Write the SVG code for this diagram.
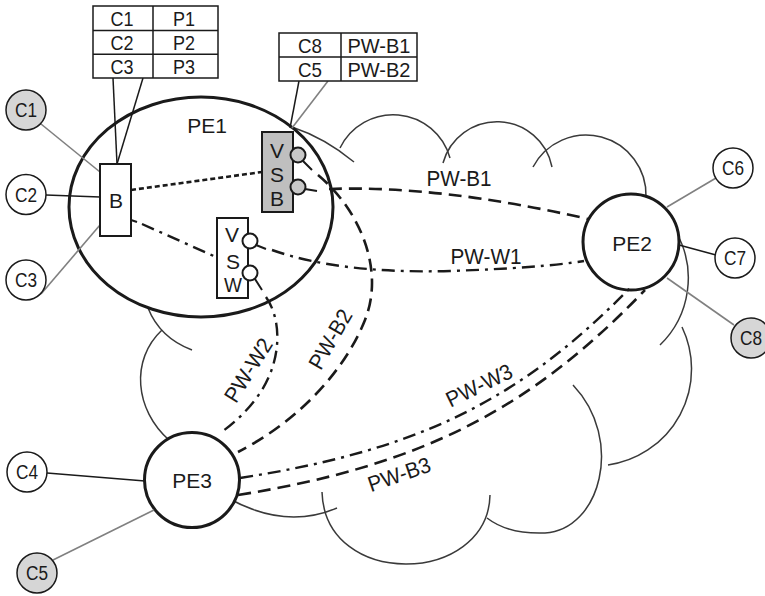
<svg xmlns="http://www.w3.org/2000/svg" width="765" height="596" viewBox="0 0 765 596">
<defs>
<style>
text{font-family:"Liberation Sans",Arial,sans-serif;fill:#1a1a1a;text-anchor:middle}
.pel{font-size:21px}
.lbl{font-size:22px}
.tbl{font-size:21px}
.cl{font-size:20px}
.vs{font-size:21px}
.cloud{fill:none;stroke:#3a3a3a;stroke-width:1.5}
.pe{fill:#fff;stroke:#1a1a1a;stroke-width:3}
.cn{fill:#fff;stroke:#1a1a1a;stroke-width:1.5}
.cg{fill:#d6d6d6;stroke:#1a1a1a;stroke-width:1.5}
.box{fill:#fff;stroke:#1a1a1a;stroke-width:2}
.tb{fill:#fff;stroke:#1a1a1a;stroke-width:1.5}
.tl{stroke:#1a1a1a;stroke-width:1.5;fill:none}
.gl{stroke:#808080;stroke-width:1.6;fill:none}
.bl{stroke:#1a1a1a;stroke-width:1.5;fill:none}
.dash{fill:none;stroke:#1a1a1a;stroke-width:2.6;stroke-dasharray:13 7}
.dd{fill:none;stroke:#1a1a1a;stroke-width:2.4;stroke-dasharray:13 6 3 6}
.dot{fill:none;stroke:#1a1a1a;stroke-width:2.6;stroke-dasharray:5 3}
.stub{stroke:#1a1a1a;stroke-width:2;fill:none}
</style>
</defs>
<rect width="765" height="596" fill="#fff"/>

<g id="cloud">
<path class="cloud" d="M292,127 Q325,138 354,162"/>
<path class="cloud" d="M340,148 A59 59 0 0 1 450,158"/>
<path class="cloud" d="M443,163 A56 56 0 0 1 552,167"/>
<path class="cloud" d="M533,167 A60 60 0 0 1 646,197"/>
<path class="cloud" d="M676,232 A93 93 0 0 1 660,345"/>
<path class="cloud" d="M682,327 A97 97 0 0 1 608,465"/>
<path class="cloud" d="M573,385 C625,440 600,530 545,533 C520,534 500,528 487,518"/>
<path class="cloud" d="M490,495 C488,585 325,590 322,492"/>
<path class="cloud" d="M337,508 Q285,530 228,498"/>
<path class="cloud" d="M169,440 C135,410 130,360 162,330"/>
<path class="cloud" d="M148,308 Q160,338 192,350"/>
</g>

<g id="PE1">
<ellipse class="pe" cx="201" cy="207" rx="132" ry="110"/>
<text class="pel" x="207" y="133">PE1</text>
</g>
<g id="PE2">
<circle class="pe" cx="631" cy="242" r="48"/>
<text class="pel" x="632" y="250.5">PE2</text>
</g>
<g id="PE3">
<circle class="pe" cx="192" cy="480" r="47.5"/>
<text class="pel" x="192" y="487.5">PE3</text>
</g>

<g id="connectors">
<line class="gl" x1="41" y1="124" x2="100" y2="172"/>
<line class="bl" x1="46" y1="195" x2="100" y2="197"/>
<line class="gl" x1="41" y1="294" x2="100" y2="225"/>
<line class="bl" x1="47" y1="473" x2="145" y2="481"/>
<line class="gl" x1="53" y1="560" x2="154" y2="510"/>
<line class="gl" x1="667" y1="207" x2="716" y2="178"/>
<line class="bl" x1="679" y1="245" x2="716" y2="255"/>
<line class="gl" x1="667" y1="278" x2="734" y2="325"/>
<line class="tl" x1="113" y1="78" x2="117" y2="164"/>
<line class="tl" x1="143" y1="78" x2="117" y2="164"/>
<line class="tl" x1="299" y1="81" x2="290" y2="128"/>
<line class="gl" x1="328" y1="81" x2="292" y2="128"/>
<path class="dot" d="M131,190 L262,172"/>
<path class="stub" d="M131,220 L137,222"/>
<path class="dd" d="M142,224 L216,257"/>
<path id="pwb1" class="dash" d="M329,189 Q440,185 588,219"/>
<path id="pww1" class="dd" d="M272,250 Q340,274 450,271 Q540,268 584,261"/>
<path id="pwb2" class="dash" d="M318,175 C360,210 385,270 365,320 C345,370 300,420 238,452"/>
<path id="pww2" class="dd" d="M266,297 C282,320 282,360 260,393 Q245,415 223,431"/>
<path id="pww3" class="dd" d="M240,478 C420,450 520,400 630,288"/>
<path id="pwb3" class="dash" d="M238,495 C420,466 530,410 645,290"/>
</g>

<g id="labels">
<text class="lbl" x="459" y="186" textLength="65" lengthAdjust="spacingAndGlyphs">PW-B1</text>
<text class="lbl" x="486" y="264" textLength="71" lengthAdjust="spacingAndGlyphs">PW-W1</text>
<text class="lbl" transform="translate(330,339) rotate(-60)" x="0" y="8" textLength="65" lengthAdjust="spacingAndGlyphs">PW-B2</text>
<text class="lbl" transform="translate(248,370) rotate(-58)" x="0" y="8" textLength="71" lengthAdjust="spacingAndGlyphs">PW-W2</text>
<text class="lbl" transform="translate(479,385) rotate(-26)" x="0" y="8" textLength="71" lengthAdjust="spacingAndGlyphs">PW-W3</text>
<text class="lbl" transform="translate(399,474) rotate(-19)" x="0" y="8" textLength="65" lengthAdjust="spacingAndGlyphs">PW-B3</text>
</g>

<g id="B">
<rect class="box" x="100" y="164" width="31" height="72"/>
<text class="vs" x="116" y="207.5">B</text>
</g>

<g id="VSB">
<rect x="262" y="132" width="31" height="80" fill="#bfbfbf" stroke="#1a1a1a" stroke-width="2"/>
<text class="vs" x="277" y="157.5">V</text>
<text class="vs" x="277" y="182">S</text>
<text class="vs" x="277" y="205.5">B</text>
<circle cx="298" cy="155" r="7.5" fill="#c8c8c8" stroke="#1a1a1a" stroke-width="2"/>
<circle cx="298" cy="187" r="7.5" fill="#c8c8c8" stroke="#1a1a1a" stroke-width="2"/>
<path class="stub" d="M303,161 L312,170 M305,189 L317,191"/>
</g>

<g id="VSW">
<rect class="box" x="217" y="218" width="31" height="80"/>
<text class="vs" x="232" y="242">V</text>
<text class="vs" x="233" y="269">S</text>
<text class="vs" x="233" y="292" textLength="18" lengthAdjust="spacingAndGlyphs">W</text>
<circle cx="250" cy="241" r="7.5" fill="#fff" stroke="#1a1a1a" stroke-width="2"/>
<circle cx="250" cy="273" r="7.5" fill="#fff" stroke="#1a1a1a" stroke-width="2"/>
<path class="stub" d="M256,245 L266,249 M255,279 L262,290"/>
</g>

<g id="table1">
<rect class="tb" x="93" y="6" width="125" height="72"/>
<path class="tl" d="M153,6 V78 M93,30.5 H218 M93,54.3 H218"/>
<text class="tbl" x="122" y="26" textLength="23" lengthAdjust="spacingAndGlyphs">C1</text>
<text class="tbl" x="184" y="26" textLength="22" lengthAdjust="spacingAndGlyphs">P1</text>
<text class="tbl" x="122" y="50" textLength="23" lengthAdjust="spacingAndGlyphs">C2</text>
<text class="tbl" x="184" y="50" textLength="22" lengthAdjust="spacingAndGlyphs">P2</text>
<text class="tbl" x="122" y="73.5" textLength="23" lengthAdjust="spacingAndGlyphs">C3</text>
<text class="tbl" x="184" y="73.5" textLength="22" lengthAdjust="spacingAndGlyphs">P3</text>
</g>

<g id="table2">
<rect class="tb" x="279" y="33" width="138" height="48"/>
<path class="tl" d="M341,33 V81 M279,57 H417"/>
<text class="tbl" x="310" y="52.5" textLength="24" lengthAdjust="spacingAndGlyphs">C8</text>
<text class="tbl" x="379" y="52.5" textLength="63" lengthAdjust="spacingAndGlyphs">PW-B1</text>
<text class="tbl" x="310" y="76.5" textLength="24" lengthAdjust="spacingAndGlyphs">C5</text>
<text class="tbl" x="379" y="76.5" textLength="63" lengthAdjust="spacingAndGlyphs">PW-B2</text>
</g>

<g id="C1"><circle class="cg" cx="26" cy="110" r="20"/><text class="cl" x="26" y="117" textLength="22" lengthAdjust="spacingAndGlyphs">C1</text></g>
<g id="C2"><circle class="cn" cx="26" cy="194.5" r="20"/><text class="cl" x="26" y="201.5" textLength="22" lengthAdjust="spacingAndGlyphs">C2</text></g>
<g id="C3"><circle class="cn" cx="26" cy="280" r="20"/><text class="cl" x="26" y="287" textLength="22" lengthAdjust="spacingAndGlyphs">C3</text></g>
<g id="C4"><circle class="cn" cx="27" cy="472" r="20"/><text class="cl" x="27" y="479" textLength="22" lengthAdjust="spacingAndGlyphs">C4</text></g>
<g id="C5"><circle class="cg" cx="37" cy="573" r="20"/><text class="cl" x="37" y="580" textLength="22" lengthAdjust="spacingAndGlyphs">C5</text></g>
<g id="C6"><circle class="cn" cx="733" cy="168" r="20"/><text class="cl" x="733" y="175" textLength="22" lengthAdjust="spacingAndGlyphs">C6</text></g>
<g id="C7"><circle class="cn" cx="735" cy="258" r="20"/><text class="cl" x="735" y="265" textLength="22" lengthAdjust="spacingAndGlyphs">C7</text></g>
<g id="C8"><circle class="cg" cx="751" cy="338" r="20"/><text class="cl" x="751" y="345" textLength="22" lengthAdjust="spacingAndGlyphs">C8</text></g>
</svg>
